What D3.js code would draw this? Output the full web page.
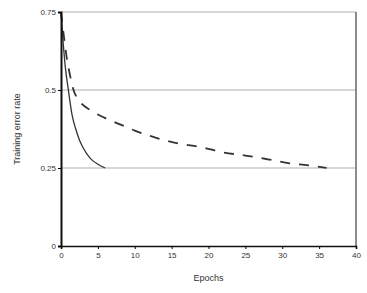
<!DOCTYPE html>
<html>
<head>
<meta charset="utf-8">
<script src="https://cdn.jsdelivr.net/npm/d3@7"></script>
<style>
  body { margin: 0; background: #fff; }
  text { font-family: "Liberation Sans", Arial, sans-serif; fill: #333; }
</style>
</head>
<body>
<div id="chart"></div>
<script>
// data
const solid_epochs = [0, 0.3, 0.6, 1, 1.5, 2, 2.5, 3, 4, 5, 6]
const solid_error = [0.75, 0.65, 0.57, 0.5, 0.42, 0.375, 0.34, 0.315, 0.28, 0.262, 0.25]
const dashed_epochs = [0, 0.4, 0.8, 1.2, 1.7, 2.5, 4, 6, 8, 10, 13, 16, 19, 22, 25, 28, 31, 33, 36]
const dashed_error = [0.75, 0.67, 0.6, 0.55, 0.5, 0.465, 0.435, 0.41, 0.39, 0.37, 0.346, 0.328, 0.317, 0.3, 0.29, 0.278, 0.265, 0.26, 0.25]
const x_ticks = [0, 5, 10, 15, 20, 25, 30, 35, 40]
const y_ticks = [0, 0.25, 0.5, 0.75]
const y_tick_labels = ['0', '0.25', '0.5', '0.75']

const width = 367, height = 293
const margin = { top: 12, right: 11, bottom: 47, left: 61 }

const svg = d3.select('#chart').append('svg')
    .attr('width', width)
    .attr('height', height)

const x = d3.scaleLinear().domain([0, 40]).range([margin.left, width - margin.right])
const y = d3.scaleLinear().domain([0, 0.75]).range([height - margin.bottom, margin.top])

// gridlines
svg.append('g')
    .selectAll('line')
    .data(y_ticks.filter(d => d > 0))
    .join('line')
    .attr('x1', x(0)).attr('x2', x(40))
    .attr('y1', d => y(d)).attr('y2', d => y(d))
    .attr('stroke', '#c8c8c8')
    .attr('stroke-width', 1.5)

// right border
svg.append('line')
    .attr('x1', x(40)).attr('x2', x(40))
    .attr('y1', y(0.75)).attr('y2', y(0))
    .attr('stroke', '#666')
    .attr('stroke-width', 1.5)

const line = d3.line().x(d => x(d[0])).y(d => y(d[1])).curve(d3.curveMonotoneX)

svg.append('path')
    .datum(dashed_epochs.map((e, i) => [e, dashed_error[i]]))
    .attr('d', line)
    .attr('fill', 'none')
    .attr('stroke', '#333')
    .attr('stroke-width', 1.8)
    .attr('stroke-dasharray', '10,9')

svg.append('path')
    .datum(solid_epochs.map((e, i) => [e, solid_error[i]]))
    .attr('d', line)
    .attr('fill', 'none')
    .attr('stroke', '#333')
    .attr('stroke-width', 1.3)

// axes
const x_axis = svg.append('g')
    .attr('transform', 'translate(0,' + y(0) + ')')
    .call(d3.axisBottom(x).tickValues(x_ticks).tickSize(3).tickPadding(3))
x_axis.select('.domain').attr('stroke', '#111').attr('stroke-width', 1.6)
x_axis.selectAll('text').style('font-size', '8px')

const y_axis = svg.append('g')
    .attr('transform', 'translate(' + x(0) + ',0)')
    .call(d3.axisLeft(y).tickValues(y_ticks).tickFormat((d, i) => y_tick_labels[i]).tickSize(3).tickPadding(2))
y_axis.select('.domain').attr('stroke', '#111').attr('stroke-width', 2)
y_axis.selectAll('text').style('font-size', '8px')

// axis titles
svg.append('text')
    .attr('x', x(20)).attr('y', 281)
    .attr('text-anchor', 'middle')
    .style('font-size', '9px')
    .text('Epochs')

svg.append('text')
    .attr('transform', 'translate(20,' + y(0.375) + ') rotate(-90)')
    .attr('text-anchor', 'middle')
    .style('font-size', '9px')
    .text('Training error rate')
</script>
</body>
</html>
